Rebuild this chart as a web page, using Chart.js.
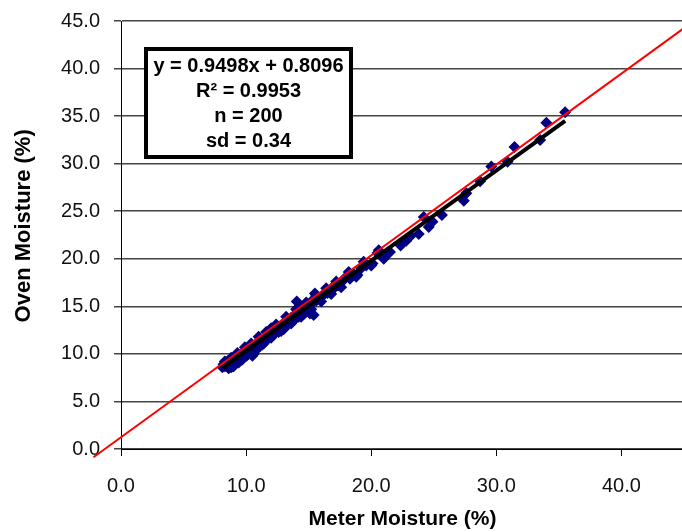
<!DOCTYPE html>
<html><head><meta charset="utf-8">
<script src="https://cdn.jsdelivr.net/npm/chart.js@4.4.1/dist/chart.umd.min.js"></script>
<style>html,body{margin:0;padding:0;overflow:hidden;background:#fff}</style>
</head><body>
<canvas id="c" width="690" height="532"></canvas>
<script>
// Meter moisture (x) and oven moisture (y)
const meterX = [8.1,8.2,8.3,8.4,8.5,8.6,8.7,8.8,8.9,8.9,9.0,9.1,9.2,9.3,9.4,9.5,9.6,9.7,9.8,9.9,
  10.0,10.1,10.2,10.3,10.4,10.5,10.6,10.7,10.8,10.9,11.0,11.1,11.2,11.3,11.4,11.5,11.6,11.7,11.8,11.9,
  12.0,12.1,12.2,12.3,12.4,12.5,12.6,12.7,12.8,12.9,13.0,13.1,13.2,13.3,13.4,13.5,13.6,13.7,13.8,13.9,
  14.0,14.05,14.1,14.2,14.3,14.4,14.5,14.6,14.7,14.8,14.9,15.0,15.1,15.2,15.3,15.4,15.5,15.6,15.8,16.0,
  16.2,16.3,16.5,16.7,16.9,17.1,17.35,17.6,17.8,18.0,18.3,18.6,18.9,19.2,19.6,20.1,20.5,20.9,21.0,21.3,
  22.35,22.8,23.15,23.8,24.2,24.6,24.9,25.65,27.4,27.6,28.7,29.6,30.9,31.45,33.5,34.0,35.5,
  12.2,12.6,13.0,13.4,13.8,14.2,14.6,15.0,8.5,9.0,9.4,10.0,10.6,11.2,11.8,
  8.3,8.6,8.8,9.1,9.3,9.6,9.9,10.2,10.4,10.8,11.0,11.4,11.6,12.0,12.4,12.8,13.2,13.6,14.0,14.4,
  14.8,15.2,15.6,16.0,16.4,16.8,17.2,17.6,18.2,18.8,19.4,20.0,20.6,21.5,9.0,10.0,11.0,12.0,13.0,14.3];
const ovenY = [8.6,8.9,8.7,9.0,8.8,9.1,8.9,8.6,9.2,8.7,9.3,9.0,9.5,9.2,9.6,9.3,9.8,9.4,9.9,10.0,
  10.2,9.9,10.4,10.1,10.5,9.8,10.6,10.3,10.9,10.6,11.1,10.8,11.3,11.0,11.5,11.6,11.4,11.9,11.7,12.0,
  12.3,11.9,12.4,12.2,12.6,12.4,12.8,12.5,13.0,12.7,13.2,13.0,13.4,13.1,13.6,13.3,13.8,13.5,14.0,13.7,
  14.2,15.5,14.0,14.4,14.1,14.6,14.3,14.8,14.5,14.9,14.7,15.1,14.25,15.3,15.65,14.1,16.35,15.6,15.9,16.0,
  16.3,16.35,16.4,16.6,17.0,17.0,17.2,17.5,17.8,18.1,17.9,18.4,18.3,19.0,19.3,19.5,20.6,20.2,20.0,20.5,
  21.4,21.9,22.4,22.6,24.4,23.35,23.9,24.6,26.1,26.9,28.15,29.7,30.2,31.75,32.5,34.3,35.4,
  12.0,12.3,12.8,13.2,13.5,13.9,14.2,14.6,9.2,8.8,9.1,10.5,10.0,11.0,12.2,
  9.2,8.5,9.6,9.0,10.1,9.4,10.7,10.0,11.1,10.5,11.8,11.1,12.3,11.7,13.1,12.4,13.9,13.2,14.7,13.9,
  15.4,14.7,16.1,15.5,16.9,16.3,17.6,17.0,18.6,18.1,19.7,19.3,20.9,20.7,8.7,9.8,10.7,12.7,12.6,14.9];
// Red reference line and black fitted line (end points)
const refLineX = [-2.2, 45];
const refLineY = [-0.87, 44.25];
const fitX = [8.1, 35.5];
const fitY = [8.5, 34.5];
// Axis ticks
const yTickValues = [0,5,10,15,20,25,30,35,40,45];
const xTickValues = [0,10,20,30,40];
// Statistics box text
const statLines = ['y = 0.9498x + 0.8096','R\u00B2 = 0.9953','n = 200','sd = 0.34'];

const FONT = '"Liberation Sans", Arial, Helvetica, sans-serif';
const toPts = (xs, ys) => xs.map((x, i) => ({x, y: ys[i]}));

const statBox = {
  id: 'statBox',
  afterDatasetsDraw(chart) {
    const {ctx, chartArea: a} = chart;
    const x0 = a.left + 25, y0 = a.top + 28, w = 205, h = 108;
    ctx.save();
    ctx.fillStyle = '#fff';
    ctx.fillRect(x0, y0, w, h);
    ctx.lineWidth = 4;
    ctx.strokeStyle = '#000';
    ctx.strokeRect(x0, y0, w, h);
    ctx.fillStyle = '#000';
    ctx.font = 'bold 20px ' + FONT;
    ctx.textAlign = 'center';
    ctx.textBaseline = 'middle';
    statLines.forEach((t, i) => ctx.fillText(t, x0 + w / 2, y0 + 17 + i * 25));
    ctx.restore();
  }
};

new Chart(document.getElementById('c'), {
  type: 'scatter',
  data: {
    datasets: [
      {
        type: 'line', data: toPts(refLineX, refLineY), borderColor: '#ff0000',
        borderWidth: 2, pointRadius: 0, fill: false, clip: false, order: 0
      },
      {
        type: 'line', data: toPts(fitX, fitY), borderColor: '#000000',
        borderWidth: 4, pointRadius: 0, fill: false, order: 1
      },
      {
        data: toPts(meterX, ovenY), pointStyle: 'rectRot', pointRadius: 6,
        backgroundColor: '#000080', borderColor: '#000080', borderWidth: 0, order: 2
      }
    ]
  },
  options: {
    responsive: false,
    animation: false,
    layout: {padding: {top: 21, left: 0, right: 0, bottom: 0}},
    plugins: {legend: {display: false}, tooltip: {enabled: false}},
    scales: {
      x: {
        type: 'linear', min: 0, max: 45,
        afterFit(s) { s.height = 83; s.paddingLeft = 0; s.paddingRight = 0; },
        afterBuildTicks(s) { s.ticks = xTickValues.map(v => ({value: v})); },
        grid: {drawOnChartArea: false, drawTicks: true, tickLength: 7, color: '#000'},
        border: {display: true, color: '#000', width: 1},
        ticks: {
          padding: 18, color: '#111', font: {family: FONT, size: 20},
          callback: v => v.toFixed(1), maxRotation: 0
        },
        title: {
          display: true, text: 'Meter Moisture (%)', color: '#000',
          font: {family: FONT, size: 21, weight: 'bold'}, padding: {top: 0, bottom: 0}
        }
      },
      y: {
        type: 'linear', min: 0, max: 45,
        afterFit(s) { s.width = 121; s.paddingTop = 0; s.paddingBottom = 0; },
        afterBuildTicks(s) { s.ticks = yTickValues.map(v => ({value: v})); },
        grid: {drawOnChartArea: true, drawTicks: true, tickLength: 7, color: '#444', lineWidth: 1.5},
        border: {display: true, color: '#000', width: 1},
        ticks: {
          padding: 14, color: '#111', font: {family: FONT, size: 20},
          callback: v => v.toFixed(1)
        },
        title: {
          display: true, text: '   Oven Moisture (%)', color: '#000',
          font: {family: FONT, size: 22, weight: 'bold'}, padding: {top: 11, bottom: 0}
        }
      }
    }
  },
  plugins: [statBox]
});
</script>
</body></html>
